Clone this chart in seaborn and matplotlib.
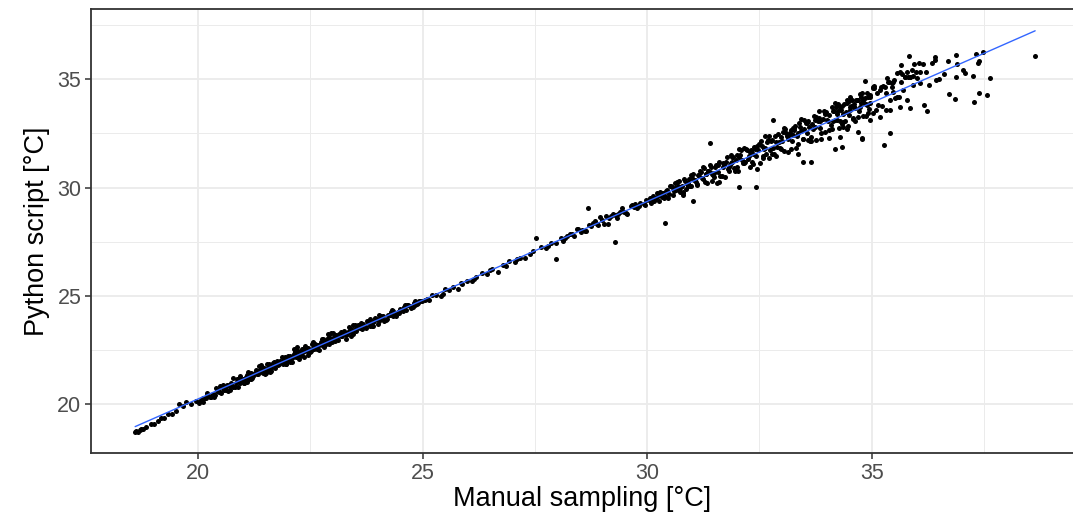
import matplotlib
matplotlib.use("Agg")
import matplotlib.pyplot as plt
import pandas as pd
import seaborn as sns

# manual sampling vs python script temperatures
manual_low = [18.60, 18.63, 18.66, 18.70, 18.72, 18.78, 18.85, 18.95, 19.02, 19.10,
              19.18, 19.25, 19.33, 19.42, 19.50, 19.58, 19.66, 19.74, 19.85, 19.95]
python_low = [18.71, 18.78, 18.74, 18.82, 18.88, 18.87, 18.97, 19.10, 19.11, 19.22,
              19.35, 19.37, 19.54, 19.56, 19.71, 20.01, 19.93, 20.10, 20.00, 20.15]

manual_20s = [20.03, 20.08, 20.12, 20.18, 20.21, 20.27, 20.33, 20.36, 20.42, 20.47,
              20.52, 20.55, 20.61, 20.66, 20.70, 20.74, 20.79, 20.85, 20.88, 20.93,
              20.97, 21.02, 21.06, 21.11, 21.15, 21.19, 21.24, 21.28, 21.33, 21.37,
              21.42, 21.46, 21.51, 21.55, 21.58, 21.63, 21.67, 21.72, 21.76, 21.80,
              21.85, 21.89, 21.93, 21.98, 22.02, 22.07, 22.11, 22.15, 22.20, 22.24,
              22.29, 22.33, 22.38, 22.42, 22.46, 22.51, 22.55, 22.60, 22.64, 22.68,
              22.73, 22.77, 22.82, 22.86, 22.91, 22.95, 23.00, 23.05, 23.10, 23.15,
              23.21, 23.26, 23.32, 23.38, 23.43, 23.49, 23.55, 23.61, 23.68, 23.74,
              23.80, 23.86, 23.93, 24.00, 24.06, 24.13, 24.20, 24.27, 24.35, 24.42,
              24.50, 24.57, 24.65, 24.72, 24.80, 24.87, 24.95,
              20.15, 20.38, 20.58, 20.82, 21.05, 21.22, 21.45, 21.62, 21.90, 22.05,
              22.18, 22.35, 22.50, 22.66, 22.80, 22.98, 23.12, 23.30, 23.46, 23.65,
              23.84, 24.02, 24.18, 24.33, 24.47, 24.62, 24.78, 24.90, 21.35, 22.90,
              20.05, 20.10, 20.24, 20.30, 20.45, 20.50, 20.63, 20.68, 20.76, 20.90,
              21.00, 21.08, 21.13, 21.26, 21.31, 21.40, 21.48, 21.53, 21.65, 21.70,
              21.78, 21.83, 21.95, 22.00, 22.09, 22.13, 22.22, 22.27, 22.36, 22.40,
              22.48, 22.53, 22.58, 22.62, 22.70, 22.75, 22.84, 22.88, 22.93, 23.03,
              23.08, 23.18, 23.24, 23.35, 23.40, 23.52, 23.58, 23.71, 23.77, 23.89,
              23.97, 24.09, 24.24, 24.38, 24.53, 24.68, 24.84, 24.98, 21.10, 22.25]
python_20s = [20.07, 20.24, 20.11, 20.31, 20.41, 20.32, 20.48, 20.35, 20.63, 20.58,
              20.54, 20.77, 20.70, 20.62, 20.84, 20.98, 20.81, 20.99, 21.18, 20.99,
              21.11, 20.99, 21.26, 21.19, 21.40, 21.18, 21.38, 21.58, 21.38, 21.53,
              21.51, 21.66, 21.46, 21.68, 21.87, 21.68, 21.84, 21.68, 21.98, 21.88,
              21.97, 21.89, 22.16, 22.05, 22.17, 21.98, 22.20, 22.42, 22.21, 22.39,
              22.28, 22.43, 22.67, 22.44, 22.60, 22.45, 22.60, 22.79, 22.61, 22.75,
              22.88, 22.75, 22.90, 22.79, 23.10, 22.95, 23.08, 22.90, 23.11, 23.25,
              23.17, 23.40, 23.23, 23.41, 23.30, 23.66, 23.51, 23.51, 23.71, 23.54,
              23.76, 23.72, 23.96, 23.72, 23.96, 24.08, 23.93, 24.13, 24.30, 24.21,
              24.38, 24.29, 24.60, 24.52, 24.69, 24.64, 24.77,
              20.28, 20.43, 20.65, 20.81, 21.06, 21.29, 21.43, 21.54, 21.88, 21.96,
              22.17, 22.20, 22.40, 22.60, 22.64, 22.86, 22.95, 23.18, 23.23, 23.53,
              23.62, 23.82, 23.91, 24.14, 24.21, 24.37, 24.47, 24.66, 21.78, 23.24,
              20.13, 20.31, 20.40, 20.32, 20.68, 20.58, 20.65, 20.87, 20.86, 21.11,
              21.18, 21.36, 21.18, 21.46, 21.41, 21.63, 21.60, 21.87, 21.80, 21.92,
              21.80, 22.00, 22.01, 22.24, 22.16, 22.32, 22.46, 22.21, 22.47, 22.59,
              22.52, 22.77, 22.55, 22.73, 22.74, 23.03, 22.83, 22.99, 22.86, 23.07,
              23.21, 23.13, 23.30, 23.32, 23.49, 23.40, 23.57, 23.63, 23.85, 23.78,
              23.95, 23.94, 24.14, 24.11, 24.37, 24.57, 24.59, 24.76, 21.01, 22.09]

manual_20s_b = [20.20, 20.35, 20.48, 20.60, 20.72, 20.86, 20.99, 21.12, 21.21, 21.34,
                21.43, 21.56, 21.69, 21.74, 21.87, 21.96, 22.04, 22.16, 22.26, 22.31,
                22.44, 22.56, 22.66, 22.79, 22.89, 22.97, 23.07, 23.19, 23.28, 23.36,
                23.47, 23.57, 23.66, 23.79, 23.91, 24.04, 24.15, 24.30, 24.45, 24.60,
                24.75, 24.92, 20.90, 21.60, 22.10, 22.70, 23.30, 23.90, 24.40, 20.55,
                20.40, 20.64, 20.94, 21.18, 21.41, 21.66, 21.91, 22.14, 22.34, 22.57,
                22.78, 23.01, 23.22, 23.44, 23.63, 23.82, 24.08, 24.33, 24.58, 24.83,
                21.03, 21.50, 21.97, 22.45, 22.92, 23.40, 23.87, 24.35, 20.78, 22.20]
python_20s_b = [20.52, 20.38, 20.86, 20.77, 20.66, 21.17, 21.11, 21.51, 21.19, 21.55,
                21.74, 21.58, 21.93, 21.86, 22.16, 21.86, 22.22, 22.49, 22.30, 22.53,
                22.54, 22.82, 22.55, 22.99, 22.98, 23.27, 23.00, 23.33, 23.30, 23.55,
                23.41, 23.64, 23.49, 23.81, 23.84, 24.14, 23.86, 24.24, 24.25, 24.57,
                24.45, 24.77, 20.80, 21.49, 21.93, 22.52, 23.02, 23.61, 24.05, 20.91,
                20.77, 20.87, 21.32, 21.43, 21.82, 21.91, 22.06, 22.53, 22.57, 22.86,
                22.92, 23.31, 23.28, 23.64, 23.74, 23.95, 24.09, 24.36, 24.51, 24.76,
                20.99, 21.38, 21.87, 22.27, 22.76, 23.13, 23.60, 24.06, 21.20, 22.64]

manual_mid = [25.05, 25.14, 25.22, 25.31, 25.40, 25.50, 25.58, 25.67, 25.78, 25.88,
              25.98, 26.09, 26.20, 26.32, 26.43, 26.55, 26.68, 26.80, 26.92, 27.05,
              27.16, 27.28, 27.40, 27.52, 27.63, 27.75, 27.86, 27.97, 28.08, 28.18,
              28.28, 28.38, 28.47, 28.56, 28.65, 28.74, 28.83, 28.91, 29.00, 29.08,
              29.16, 29.24, 29.32, 29.40, 29.48, 29.56, 29.63, 29.70, 29.78, 29.85,
              29.92, 29.98,
              28.12, 28.33, 28.52, 28.70, 28.88, 29.04, 29.20, 29.36, 29.52, 29.66,
              29.81, 29.95, 29.45, 29.12, 28.95, 27.98, 29.28, 28.69,
              25.10, 25.45, 25.85, 26.15, 26.50, 26.85, 27.10, 27.45, 27.80, 28.22,
              28.43, 28.61, 28.79, 29.28, 29.74]
python_mid = [24.82, 24.82, 25.02, 25.03, 25.01, 25.30, 25.25, 25.40, 25.34, 25.57,
              25.70, 25.67, 25.85, 26.05, 26.02, 26.22, 26.12, 26.43, 26.59, 26.57,
              26.77, 26.74, 26.95, 27.69, 27.24, 27.20, 27.44, 27.43, 27.69, 27.68,
              27.86, 27.77, 28.09, 28.04, 27.98, 28.24, 28.44, 28.29, 28.50, 28.69,
              28.60, 28.77, 28.61, 28.89, 28.86, 28.80, 29.16, 29.10, 29.07, 29.28,
              29.25, 29.44,
              27.54, 27.86, 27.94, 28.27, 28.32, 28.34, 28.70, 28.78, 28.82, 29.21,
              29.17, 29.19, 29.06, 28.31, 28.65, 26.69, 27.50, 29.05,
              24.87, 25.09, 25.58, 25.80, 26.20, 26.39, 26.70, 27.09, 27.30, 27.78,
              28.08, 27.98, 28.35, 28.74, 29.26]

manual_30s = [30.04, 30.09, 30.13, 30.18, 30.22, 30.27, 30.31, 30.36, 30.40, 30.45,
              30.49, 30.54, 30.58, 30.63, 30.67, 30.72, 30.76, 30.81, 30.85, 30.90,
              30.94, 30.98, 31.03, 31.07, 31.12, 31.16, 31.21, 31.25, 31.30, 31.34,
              31.39, 31.43, 31.48, 31.52, 31.57, 31.61, 31.66, 31.70, 31.75, 31.79,
              31.84, 31.88, 31.93, 31.97, 32.02, 32.06, 32.11, 32.15, 32.20, 32.24,
              32.29, 32.33, 32.38, 32.42, 32.47, 32.51, 32.56, 32.60, 32.65, 32.69,
              32.74, 32.78, 32.83, 32.87, 32.92, 32.96, 33.01, 33.05, 33.10, 33.14,
              33.19, 33.23, 33.28, 33.32, 33.37, 33.41, 33.46, 33.50, 33.55, 33.59,
              33.64, 33.68, 33.73, 33.77, 33.82, 33.86, 33.91, 33.95, 34.00, 34.04,
              34.09, 34.13, 34.18, 34.22, 34.27, 34.31, 34.36, 34.40, 34.45, 34.49,
              34.54, 34.58, 34.63, 34.67, 34.72, 34.76, 34.81, 34.85, 34.90, 34.95,
              30.20, 30.65, 31.05, 31.45, 31.90, 32.35, 32.80, 33.25, 33.70, 34.15,
              34.60, 34.88, 30.80, 31.60, 32.45, 33.35, 34.30, 33.05, 32.05, 31.25,
              30.40, 31.03, 32.42, 31.40, 32.81, 34.78, 33.66, 33.46, 32.05,
              30.11, 30.34, 30.56, 30.78, 30.96, 31.14, 31.32, 31.50, 31.68, 31.86,
              32.00, 32.18, 32.31, 32.49, 32.62, 32.76, 32.90, 33.03, 33.16, 33.30,
              33.43, 33.57, 33.71, 33.84, 33.97, 34.11, 34.25, 34.38, 34.52, 34.65,
              34.79, 34.92, 35.05, 35.20, 35.35, 35.50, 35.62, 35.75, 35.95, 36.15]
python_30s = [29.44, 29.28, 29.59, 29.46, 29.74, 29.39, 29.66, 29.77, 29.61, 29.91,
              29.72, 30.07, 29.65, 30.00, 30.24, 29.88, 30.04, 29.79, 30.28, 30.21,
              30.38, 30.07, 30.62, 30.35, 30.10, 30.54, 30.71, 30.39, 30.62, 30.23,
              30.72, 30.94, 30.50, 30.94, 30.72, 31.20, 30.55, 30.96, 31.18, 30.85,
              31.06, 31.40, 30.88, 31.28, 30.78, 31.50, 31.28, 31.15, 31.79, 31.33,
              31.63, 31.16, 31.89, 31.47, 31.71, 31.13, 31.93, 31.76, 31.56, 32.21,
              31.74, 32.18, 31.57, 32.11, 32.49, 31.82, 32.17, 31.68, 32.52, 32.23,
              32.50, 32.14, 32.74, 31.82, 32.52, 32.78, 32.22, 32.72, 32.54, 33.07,
              32.32, 32.91, 32.80, 32.19, 33.21, 32.75, 33.17, 32.55, 33.12, 33.34,
              32.88, 33.54, 33.12, 33.38, 32.77, 33.59, 33.38, 33.07, 33.91, 33.35,
              33.75, 33.18, 33.68, 34.02, 33.51, 33.90, 33.30, 34.13, 33.83, 33.62,
              29.52, 29.87, 30.37, 30.63, 31.17, 31.53, 31.82, 32.43, 32.72, 33.08,
              33.70, 33.86, 29.66, 30.24, 30.87, 31.55, 32.33, 32.73, 31.76, 30.95,
              28.38, 29.38, 30.01, 32.07, 33.12, 32.25, 31.19, 31.17, 30.04,
              29.52, 29.55, 30.02, 30.09, 30.08, 30.59, 30.63, 30.65, 31.15, 31.15,
              31.51, 31.18, 31.70, 32.01, 31.81, 32.16, 31.89, 32.56, 32.43, 32.86,
              32.63, 32.98, 33.28, 33.07, 33.45, 33.70, 33.53, 33.87, 33.73, 34.05,
              34.35, 34.20, 34.67, 34.65, 35.04, 34.98, 35.34, 35.11, 35.69, 35.68]

manual_30s_b = [30.07, 30.15, 30.24, 30.29, 30.38, 30.43, 30.52, 30.60, 30.69, 30.74,
                30.83, 30.88, 30.92, 31.00, 31.09, 31.18, 31.23, 31.28, 31.36, 31.41,
                31.47, 31.54, 31.63, 31.72, 31.77, 31.82, 31.91, 31.95, 32.04, 32.09,
                32.13, 32.22, 32.27, 32.36, 32.40, 32.53, 32.58, 32.67, 32.71, 32.85,
                32.94, 32.99, 33.07, 33.12, 33.21, 33.26, 33.34, 33.39, 33.48, 33.53,
                33.61, 33.66, 33.75, 33.80, 33.88, 33.93, 34.02, 34.06, 34.16, 34.20,
                34.29, 34.34, 34.42, 34.47, 34.56, 34.61, 34.69, 34.74, 34.83, 34.87,
                34.97, 35.02, 35.14, 35.25, 35.45, 35.60, 35.80, 36.00, 36.35, 36.70,
                30.47, 30.62, 30.79, 30.97, 31.10, 31.27, 31.44, 31.58, 31.73, 31.87,
                32.01, 32.16, 32.28, 32.44, 32.57, 32.72, 32.86, 32.97, 33.13, 33.24,
                33.36, 33.49, 33.62, 33.74, 33.87, 33.99, 34.12, 34.24, 34.37, 34.50,
                34.63, 34.76, 34.91, 35.06, 35.22, 35.38, 35.52, 35.68, 35.86, 36.05,
                30.33, 30.86, 31.35, 31.83, 32.32, 32.79, 33.20, 33.58, 33.96, 34.33,
                34.70, 35.10, 35.45, 32.62, 33.82, 34.46, 31.55, 30.70, 34.05, 33.42]
python_30s_b = [29.53, 29.36, 29.59, 29.79, 29.52, 29.82, 30.05, 29.82, 30.07, 29.80,
                30.38, 30.18, 30.05, 30.46, 30.24, 30.76, 30.45, 30.25, 30.75, 31.02,
                30.57, 31.02, 30.52, 31.05, 31.40, 30.96, 31.40, 30.76, 31.40, 31.72,
                31.13, 31.74, 31.46, 31.09, 31.78, 32.15, 31.47, 32.08, 31.36, 32.36,
                32.12, 31.77, 32.69, 32.39, 31.77, 32.67, 32.39, 32.96, 32.24, 32.97,
                32.79, 32.14, 33.25, 33.07, 32.54, 33.54, 33.07, 32.64, 33.53, 33.73,
                33.07, 33.76, 33.49, 32.83, 34.02, 33.84, 33.25, 34.30, 33.91, 33.32,
                34.29, 34.64, 33.80, 34.70, 34.63, 34.17, 35.11, 35.04, 35.76, 35.83,
                29.53, 30.19, 29.77, 30.56, 30.18, 30.91, 30.32, 31.02, 30.51, 31.52,
                30.97, 31.83, 30.97, 31.94, 31.38, 32.37, 31.45, 32.35, 31.62, 32.75,
                32.03, 33.13, 32.17, 33.11, 32.26, 33.49, 32.69, 33.87, 33.04, 34.01,
                33.06, 34.18, 33.44, 34.60, 33.77, 34.85, 34.15, 35.25, 35.11, 35.74,
                29.77, 29.93, 30.76, 30.75, 31.73, 31.57, 32.64, 32.21, 33.41, 32.94,
                34.04, 33.56, 34.83, 32.38, 33.55, 32.72, 30.20, 30.31, 32.30, 33.15]

manual_high = [35.83, 36.42, 36.88, 37.33, 37.48, 37.36, 37.63, 37.57, 37.38, 37.27,
               36.86, 36.73, 36.88, 37.04, 37.25, 38.64, 36.24, 36.17, 35.41, 35.28,
               34.79, 35.66, 36.07, 36.22, 36.50, 36.62, 36.28, 36.43, 34.85, 34.18,
               34.35, 35.56, 35.78, 35.89, 35.99, 35.93, 35.85, 35.74, 35.65, 35.48,
               35.37, 35.30, 35.18, 35.11, 35.33, 35.48, 35.70, 35.93, 36.08, 35.78,
               35.63, 35.85, 35.41, 35.18, 35.04, 34.96, 34.81, 34.74, 34.52, 34.44,
               34.29, 34.59, 34.22, 34.70, 34.37, 34.96, 35.33, 35.56, 35.41, 34.89,
               35.04, 34.96, 34.52, 34.18, 36.42, 36.90, 37.07, 37.38]
python_high = [36.05, 36.02, 36.14, 36.15, 36.25, 35.74, 35.07, 34.27, 34.35, 33.95,
               34.10, 34.31, 35.09, 35.43, 35.15, 36.07, 33.51, 33.82, 32.51, 31.98,
               32.29, 35.65, 35.35, 35.35, 34.99, 35.22, 34.74, 34.98, 34.94, 31.78,
               31.89, 35.27, 35.35, 35.43, 35.35, 35.15, 35.12, 35.09, 34.89, 34.89,
               34.89, 34.66, 34.50, 34.35, 34.35, 34.43, 34.50, 34.74, 34.81, 34.04,
               33.73, 33.66, 33.58, 33.27, 33.43, 33.89, 34.04, 33.73, 33.58, 34.04,
               33.73, 33.20, 33.12, 32.58, 32.81, 33.12, 33.58, 34.19, 34.04, 34.35,
               34.58, 34.19, 34.19, 33.89, 35.88, 35.70, 35.30, 35.85]

df = pd.DataFrame({
    "manual": manual_low + manual_20s + manual_20s_b + manual_mid
              + manual_30s + manual_30s_b + manual_high,
    "python": python_low + python_20s + python_20s_b + python_mid
              + python_30s + python_30s_b + python_high,
})

sns.set_theme(style="white")
plt.rcParams["font.family"] = ["Liberation Sans", "DejaVu Sans"]

W, H = 1073, 524
fig = plt.figure(figsize=(W / 100, H / 100), dpi=100)
ax = fig.add_axes([91 / W, 1 - 453 / H, 1 - 91 / W, (453 - 9) / H])

sns.scatterplot(data=df, x="manual", y="python", s=13, color="black",
                linewidth=0, ax=ax, zorder=3)
sns.regplot(data=df, x="manual", y="python", scatter=False, ci=None,
            color="#3366FF", line_kws={"linewidth": 1.0, "zorder": 4}, ax=ax)

ax.set_xlim(17.617, 39.483)
ax.set_ylim(17.75, 38.24)
ax.set_xticks([20, 25, 30, 35])
ax.set_yticks([20, 25, 30, 35])
ax.set_xticks([22.5, 27.5, 32.5, 37.5], minor=True)
ax.set_yticks([22.5, 27.5, 32.5, 37.5], minor=True)
ax.grid(which="major", color="#EBEBEB", linewidth=1.3)
ax.grid(which="minor", color="#EBEBEB", linewidth=0.7)
ax.set_axisbelow(True)

ax.tick_params(which="major", direction="out", length=4.5, width=1.1,
               color="#333333", labelsize=15.5, labelcolor="#4D4D4D",
               bottom=True, left=True, pad=2.5)
ax.tick_params(which="minor", length=0)
for side in ["left", "top", "bottom"]:
    ax.spines[side].set_color("#333333")
    ax.spines[side].set_linewidth(1.3)
ax.spines["right"].set_visible(False)

ax.set_xlabel("Manual sampling [°C]", fontsize=19.5, color="black", labelpad=2)
ax.set_ylabel("Python script [°C]", fontsize=19.5, color="black", labelpad=5)

fig.savefig("out.png", dpi=100)
